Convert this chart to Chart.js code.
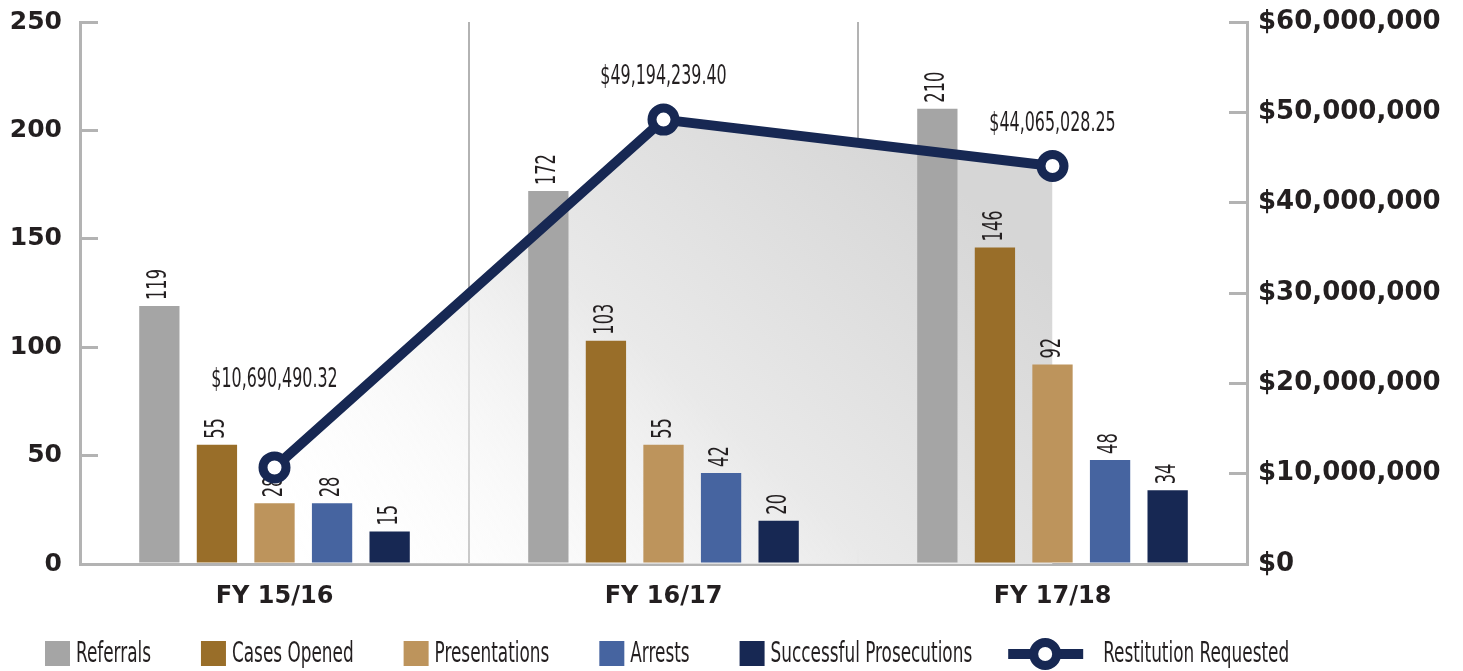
<!DOCTYPE html>
<html>
<head>
<meta charset="utf-8">
<script src="https://cdn.jsdelivr.net/npm/chart.js@4.4.1/dist/chart.umd.min.js"></script>
<style>
  html, body { margin: 0; padding: 0; background: #ffffff; }
  #wrap { width: 1463px; height: 671px; }
</style>
</head>
<body>
<div id="wrap"><canvas id="chart" width="1463" height="671"></canvas></div>
<script>
var years = ['FY 15/16', 'FY 16/17', 'FY 17/18'];
var referrals = [119, 172, 210];
var casesOpened = [55, 103, 146];
var presentations = [28, 55, 92];
var arrests = [28, 42, 48];
var prosecutions = [15, 20, 34];
var restitution = [10690490.32, 49194239.40, 44065028.25];

var countTicks = [0, 50, 100, 150, 200, 250];
var dollarTicks = [0, 10000000, 20000000, 30000000, 40000000, 50000000, 60000000];

var navy = '#172853';
var axisGray = '#b3b3b3';
var textDark = '#231f20';
var boldFont = 'DejaVu Sans';
var narrowFont = '"Liberation Sans Narrow", "DejaVu Sans Condensed", sans-serif';
var squeeze = 0.67; // the original uses a very condensed face

function money(v, cents) {
    return '$' + v.toLocaleString('en-US', { minimumFractionDigits: cents ? 2 : 0, maximumFractionDigits: cents ? 2 : 0 });
}

// bar numbers go in right after each bar set, so the line sits over them;
// the dollar amounts go in after everything
var valueLabels = {
    id: 'valueLabels',
    afterDatasetDraw: function(chart, args) {
        var ds = chart.data.datasets[args.index];
        if (ds.type === 'line') return;
        var ctx = chart.ctx;
        args.meta.data.forEach(function(el, j) {
            ctx.save();
            ctx.fillStyle = textDark;
            ctx.translate(el.x, el.y - 6);
            ctx.rotate(-Math.PI / 2);
            ctx.scale(squeeze, 1);
            ctx.font = '27px ' + narrowFont;
            ctx.textAlign = 'left';
            ctx.textBaseline = 'middle';
            ctx.fillText(String(ds.data[j]), 0, 0);
            ctx.restore();
        });
    },
    afterDatasetsDraw: function(chart) {
        var ctx = chart.ctx;
        chart.data.datasets.forEach(function(ds, i) {
            if (ds.type !== 'line') return;
            chart.getDatasetMeta(i).data.forEach(function(el, j) {
                var lift = j === 0 ? 87 : 42;
                ctx.save();
                ctx.fillStyle = textDark;
                ctx.translate(el.x, el.y - lift);
                ctx.scale(0.68, 1);
                ctx.font = '26px ' + narrowFont;
                ctx.textAlign = 'center';
                ctx.textBaseline = 'middle';
                ctx.fillText(money(ds.data[j], true), 0, 0);
                ctx.restore();
            });
        });
    }
};

// legend row along the bottom
var bottomLegend = {
    id: 'bottomLegend',
    afterDraw: function(chart) {
        var ctx = chart.ctx;
        var x = 45;
        var y = 654;
        ctx.save();
        ctx.font = '28px ' + narrowFont;
        ctx.textBaseline = 'middle';
        ctx.textAlign = 'left';
        chart.data.datasets.forEach(function(ds, i) {
            if (ds.type === 'line') {
                ctx.strokeStyle = ds.borderColor;
                ctx.lineWidth = 10;
                ctx.beginPath();
                ctx.moveTo(x, y);
                ctx.lineTo(x + 75, y);
                ctx.stroke();
                ctx.beginPath();
                ctx.arc(x + 37, y, 11.5, 0, Math.PI * 2);
                ctx.fillStyle = '#ffffff';
                ctx.fill();
                ctx.lineWidth = 9;
                ctx.stroke();
                x += 75 + 20;
            } else {
                ctx.fillStyle = ds.backgroundColor;
                ctx.fillRect(x, y - 13, 25, 25);
                x += 25 + 6;
            }
            var w = ctx.measureText(ds.label).width * squeeze;
            ctx.save();
            ctx.translate(x, y + 1);
            ctx.scale(squeeze, 1);
            ctx.fillStyle = textDark;
            ctx.fillText(ds.label, 0, 0);
            ctx.restore();
            var next = chart.data.datasets[i + 1];
            x += w + (next && next.type === 'line' ? 36 : 50);
        });
        ctx.restore();
    }
};

function shade(context) {
    var chart = context.chart;
    var area = chart.chartArea;
    if (!area) return 'rgba(220,220,220,0.6)';
    var g = chart.ctx.createLinearGradient(area.left + 200, area.bottom, area.left + 700, area.top);
    g.addColorStop(0, 'rgba(255,255,255,0)');
    g.addColorStop(0.55, '#e9e9e9');
    g.addColorStop(1, '#d6d6d6');
    return g;
}

// vertical axes: fixed width, and no extra room above the top label
function fitSide(width) {
    return function(scale) {
        scale.width = width;
        scale.paddingTop = 14;
        scale.paddingBottom = 14;
    };
}

new Chart(document.getElementById('chart'), {
    type: 'bar',
    data: {
        labels: years,
        datasets: [
            { label: 'Referrals', data: referrals, backgroundColor: '#a5a5a5', order: 1 },
            { label: 'Cases Opened', data: casesOpened, backgroundColor: '#996e29', order: 1 },
            { label: 'Presentations', data: presentations, backgroundColor: '#bd945c', order: 1 },
            { label: 'Arrests', data: arrests, backgroundColor: '#4664a0', order: 1 },
            { label: 'Successful Prosecutions', data: prosecutions, backgroundColor: navy, order: 1 },
            {
                type: 'line',
                label: 'Restitution Requested',
                data: restitution,
                yAxisID: 'y1',
                borderColor: navy,
                borderWidth: 10,
                backgroundColor: shade,
                fill: 'origin',
                tension: 0,
                pointRadius: 11.5,
                pointBorderWidth: 9,
                pointBackgroundColor: '#ffffff',
                pointBorderColor: navy,
                clip: false,
                order: 0
            }
        ]
    },
    options: {
        responsive: false,
        animation: false,
        layout: { autoPadding: false, padding: { top: 22, left: 0, right: 0, bottom: 60 } },
        datasets: {
            bar: { categoryPercentage: 0.74, barPercentage: 0.7 }
        },
        plugins: {
            legend: { display: false },
            tooltip: { enabled: false },
            filler: { drawTime: 'beforeDatasetsDraw' }
        },
        scales: {
            x: {
                offset: true,
                grid: { offset: true, color: axisGray, lineWidth: 2, drawTicks: false },
                border: { color: axisGray, width: 3 },
                afterFit: function(scale) { scale.height = 47; },
                ticks: {
                    color: textDark,
                    padding: 18,
                    font: { family: boldFont, size: 24, weight: 'bold' }
                }
            },
            y: {
                position: 'left',
                min: 0,
                max: 250,
                afterBuildTicks: function(scale) {
                    scale.ticks = countTicks.map(function(v) { return { value: v }; });
                },
                afterFit: fitSide(80),
                grid: { drawOnChartArea: false, tickLength: -18, color: axisGray, lineWidth: 3 },
                border: { color: axisGray, width: 3 },
                ticks: {
                    color: textDark,
                    padding: 36,
                    font: { family: boldFont, size: 25, weight: 'bold' }
                }
            },
            y1: {
                position: 'right',
                min: 0,
                max: 60000000,
                afterBuildTicks: function(scale) {
                    scale.ticks = dollarTicks.map(function(v) { return { value: v }; });
                },
                afterFit: fitSide(216),
                grid: { drawOnChartArea: false, tickLength: -18, color: axisGray, lineWidth: 3 },
                border: { color: axisGray, width: 3 },
                ticks: {
                    color: textDark,
                    padding: 29,
                    font: { family: boldFont, size: 26, weight: 'bold' },
                    callback: function(v) { return money(v, false); }
                }
            }
        }
    },
    plugins: [valueLabels, bottomLegend]
});
</script>
</body>
</html>
